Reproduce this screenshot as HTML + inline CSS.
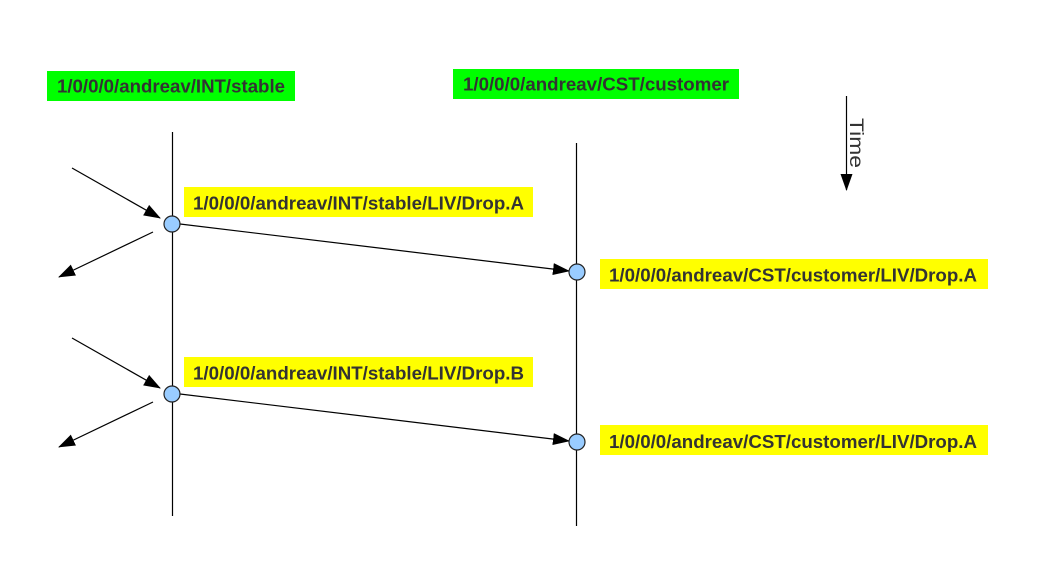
<!DOCTYPE html>
<html><head><meta charset="utf-8"><style>html,body{margin:0;padding:0;background:#fff}svg{display:block}</style></head>
<body>
<svg width="1040" height="575" viewBox="0 0 1040 575" xmlns="http://www.w3.org/2000/svg">
<defs>
<marker id="ah" markerWidth="17" markerHeight="12" refX="16" refY="6" orient="auto" markerUnits="userSpaceOnUse">
<path d="M0,0 L17,6 L0,12 Z" fill="#000"/>
</marker>
</defs>
<g font-family="Liberation Sans, sans-serif" font-weight="bold" font-size="18.5" fill="#333">
<rect x="47" y="71" width="248" height="30" fill="#00ff00"/>
<text x="57" y="92.5" textLength="228" lengthAdjust="spacingAndGlyphs">1/0/0/0/andreav/INT/stable</text>
<rect x="453" y="69" width="286" height="30" fill="#00ff00"/>
<text x="463" y="90.5" textLength="266" lengthAdjust="spacingAndGlyphs">1/0/0/0/andreav/CST/customer</text>
<rect x="184" y="187" width="349" height="30" fill="#ffff00"/>
<text x="193" y="209.5" textLength="331" lengthAdjust="spacingAndGlyphs">1/0/0/0/andreav/INT/stable/LIV/Drop.A</text>
<rect x="600" y="259" width="388" height="30" fill="#ffff00"/>
<text x="609" y="281.5" textLength="368" lengthAdjust="spacingAndGlyphs">1/0/0/0/andreav/CST/customer/LIV/Drop.A</text>
<rect x="184" y="357" width="349" height="30" fill="#ffff00"/>
<text x="193" y="379.5" textLength="331" lengthAdjust="spacingAndGlyphs">1/0/0/0/andreav/INT/stable/LIV/Drop.B</text>
<rect x="600" y="425" width="388" height="30" fill="#ffff00"/>
<text x="609" y="448" textLength="368" lengthAdjust="spacingAndGlyphs">1/0/0/0/andreav/CST/customer/LIV/Drop.A</text>
</g>
<g stroke="#000" stroke-width="1.2" fill="none">
<line x1="172.5" y1="132" x2="172.5" y2="516"/>
<line x1="576.5" y1="143" x2="576.5" y2="526"/>
<line x1="72" y1="168" x2="160" y2="218" marker-end="url(#ah)"/>
<line x1="153" y1="232" x2="59" y2="277" marker-end="url(#ah)"/>
<line x1="72" y1="338" x2="160" y2="388" marker-end="url(#ah)"/>
<line x1="153" y1="402" x2="59" y2="447" marker-end="url(#ah)"/>
<line x1="180" y1="224" x2="569" y2="271" marker-end="url(#ah)"/>
<line x1="180" y1="394" x2="569" y2="441" marker-end="url(#ah)"/>
<line x1="846.5" y1="96" x2="846.5" y2="190" marker-end="url(#ah)"/>
</g>
<g fill="#99ccff" stroke="#222" stroke-width="1.2">
<circle cx="172" cy="224" r="8"/>
<circle cx="577" cy="272" r="8"/>
<circle cx="172" cy="394" r="8"/>
<circle cx="577" cy="442" r="8"/>
</g>
<text x="0" y="0" transform="translate(850,118) rotate(90)" font-family="Liberation Sans, sans-serif" font-size="19" fill="#333" textLength="50" lengthAdjust="spacingAndGlyphs">Time</text>
</svg>
</body></html>
